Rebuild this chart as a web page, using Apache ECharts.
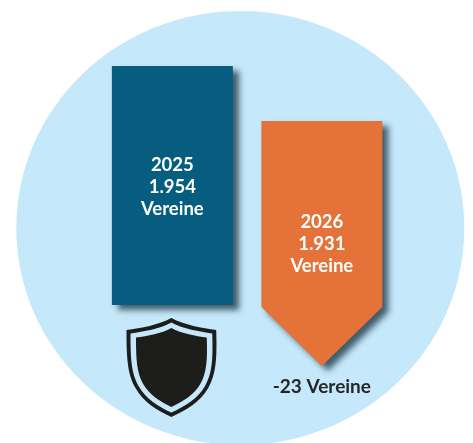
<!DOCTYPE html>
<html>
<head>
<meta charset="utf-8">
<style>
  html, body { margin: 0; padding: 0; background: #fff; }
  #chart { width: 473px; height: 443px; }
</style>
<script src="https://cdn.jsdelivr.net/npm/echarts@6/dist/echarts.min.js"></script>
</head>
<body>
<div id="chart"></div>
<script>
// data
const years = ['2025', '2026'];
const clubs = [1954, 1931];
const clubLabels = ['1.954', '1.931'];
const barBase = [1853.8, 1853];   // axis value where the straight part of the bar stops
const unitLabel = 'Vereine';
const changeLabels = ['', '-23 Vereine'];

const barColors = ['#075d80', '#e57239'];
const tipDepth = [0, 59]; // only the 2026 bar ends in an arrow
const fontName = 'Lato, "Noto Sans", sans-serif';

// shield outline, fitted into a box when drawn
const shieldPath = 'M45 0 C58 7 76 10 90 12 C91 40 90 56 82 70 C74 84 60 92 45 99 C30 92 17 84 9 70 C1 56 0 40 0 12 C15 10 32 7 45 0 Z';
const shieldLayers = [
  { x: 126.5, y: 318, width: 90, height: 99, fill: '#1d1d1b' },
  { x: 130.5, y: 322.5, width: 82, height: 90, fill: '#c5e9fa' },
  { x: 136, y: 328, width: 71, height: 79, fill: '#1d1d1b' }
];

function renderBar(params, api) {
  const i = params.dataIndex;
  const top = api.coord([i, api.value(1)]);
  const bottom = api.coord([i, api.value(2)]);
  const half = 60.5;
  const pts = [
    [top[0] - half, top[1]],
    [top[0] + half, top[1]],
    [top[0] + half, bottom[1]],
  ];
  if (tipDepth[i] > 0) pts.push([top[0], bottom[1] + tipDepth[i]]);
  pts.push([top[0] - half, bottom[1]]);

  const midY = (top[1] + bottom[1] + tipDepth[i]) / 2;
  return {
    type: 'group',
    children: [
      {
        type: 'polygon',
        shape: { points: pts },
        style: {
          fill: barColors[i],
          shadowColor: 'rgba(20,45,60,0.75)',
          shadowBlur: 6,
          shadowOffsetX: 6,
          shadowOffsetY: 5
        }
      },
      {
        type: 'text',
        x: top[0],
        y: midY + 1,
        style: {
          text: years[i] + '\n' + clubLabels[i] + '\n' + unitLabel,
          fill: '#fff',
          align: 'center',
          verticalAlign: 'middle',
          font: 'bold 18.5px ' + fontName,
          lineHeight: 22
        }
      },
      {
        type: 'text',
        x: top[0],
        y: 387,
        style: {
          text: changeLabels[i],
          fill: '#26262a',
          align: 'center',
          verticalAlign: 'middle',
          font: 'bold 19px ' + fontName
        }
      }
    ]
  };
}

// the shield under the 2025 bar, plain decoration
function renderShield(params) {
  const s = shieldLayers[params.dataIndex];
  return {
    type: 'path',
    shape: { pathData: shieldPath, x: s.x, y: s.y, width: s.width, height: s.height, layout: 'cover' },
    style: { fill: s.fill }
  };
}

const chart = echarts.init(document.getElementById('chart'), null, { renderer: 'canvas' });

chart.setOption({
  animation: false,
  backgroundColor: '#fff',
  // the bars sit on a cut off axis, top and bottom of the picture
  grid: { left: 97.6, width: 299, top: 0, bottom: 0 },
  xAxis: { type: 'category', data: years, show: false },
  yAxis: { type: 'value', min: 1796, max: 1981.7, show: false },
  graphic: [
    // the backdrop is a bit wider than tall
    { type: 'ellipse', z: 0, shape: { cx: 240.3, cy: 228, rx: 224, ry: 217 }, style: { fill: '#c5e9fa' } }
  ],
  series: [
    {
      type: 'custom',
      renderItem: renderShield,
      clip: false,
      silent: true,
      data: shieldLayers.map((s, i) => [i])
    },
    {
      type: 'custom',
      renderItem: renderBar,
      clip: false,
      encode: { x: 0, y: 1 },
      data: clubs.map((v, i) => [i, v, barBase[i]])
    }
  ]
});

window.addEventListener('resize', function () { chart.resize(); });
</script>
</body>
</html>
